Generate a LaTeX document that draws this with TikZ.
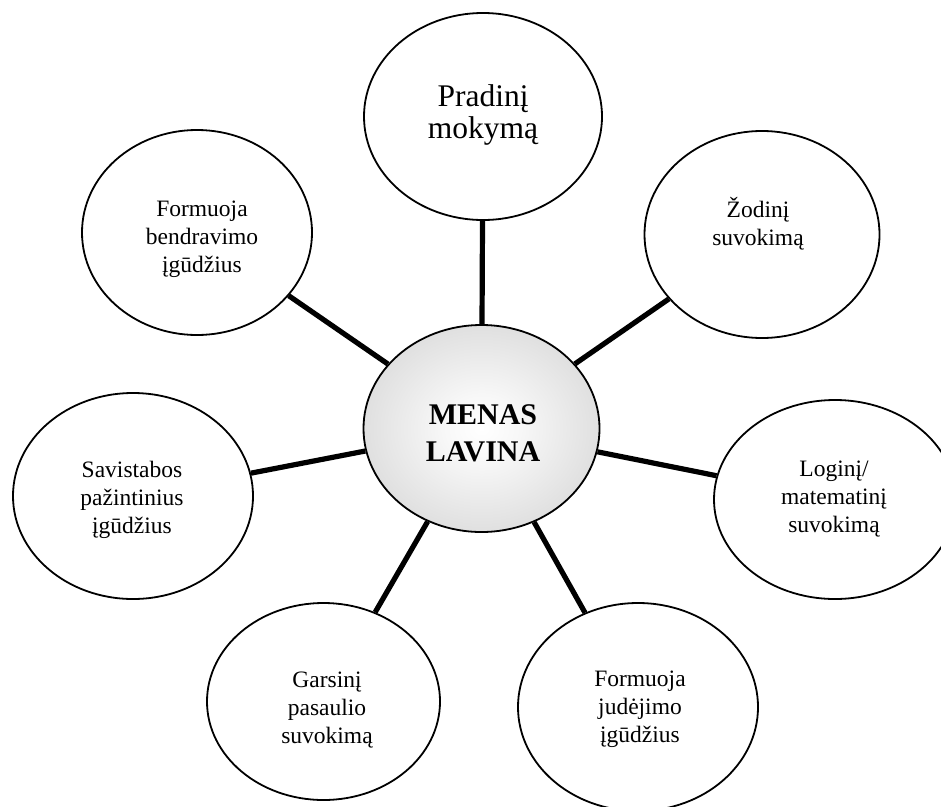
\documentclass[tikz,border=0pt]{standalone}
\usepackage{fontspec}
\setmainfont{Liberation Serif}
\usetikzlibrary{shapes.geometric}
\pgfdeclareradialshading{menasshade}{\pgfpoint{0bp}{0bp}}{color(0bp)=(white); color(8bp)=(white!97!black); color(50bp)=(black!26); color(100bp)=(black!26)}
\tikzset{
  bubble/.style={ellipse, draw=black, line width=1.8pt, fill=white, inner sep=0pt},
  lbl/.style={align=center, font=\fontsize{23.5}{28}\selectfont, inner sep=0pt},
  spoke/.style={line width=5.2pt, draw=black},
}
\begin{document}
\begin{tikzpicture}[x=1pt,y=-1pt]
\useasboundingbox (0,0) rectangle (941,806);
\clip (0,0) rectangle (941,806);
% outer ellipses
\node[bubble, minimum width=238pt, minimum height=207pt] (top) at (483,116.5) {};
\node[bubble, minimum width=235pt, minimum height=207pt] (zod) at (762,234.5) {};
\node[bubble, minimum width=242pt, minimum height=199pt] (log) at (835,499.5) {};
\node[bubble, minimum width=240pt, minimum height=208pt] (jud) at (638,707) {};
\node[bubble, minimum width=233pt, minimum height=197pt] (gar) at (323.5,701.5) {};
\node[bubble, minimum width=240pt, minimum height=206pt] (sav) at (133,496) {};
\node[bubble, minimum width=230pt, minimum height=205pt] (ben) at (197,232.5) {};
% central ellipse
\node[ellipse, draw=black, line width=1.8pt, shading=menasshade, inner sep=0pt,
      minimum width=236pt, minimum height=207pt] (mid) at (481.5,428.5) {};
% spokes
\draw[spoke] (mid) -- (top);
\draw[spoke] (mid) -- (zod);
\draw[spoke] (mid) -- (log);
\draw[spoke] (mid) -- (jud);
\draw[spoke] (mid) -- (gar);
\draw[spoke] (mid) -- (sav);
\draw[spoke] (mid) -- (ben);
% labels
\node[align=center, inner sep=0pt, font=\fontsize{31.5}{32}\selectfont] (ttop) at (483,115) {Pradinį\\mokymą};
\node[lbl] (tzod) at (758,224) {Žodinį\\suvokimą};
\node[lbl] (tlog) at (834,499) {Loginį/\\matematinį\\suvokimą};
\node[lbl] (tjud) at (640,709) {Formuoja\\judėjimo\\įgūdžius};
\node[lbl] (tgar) at (327,710) {Garsinį\\pasaulio\\suvokimą};
\node[lbl] (tsav) at (132,499.5) {Savistabos\\pažintinius\\įgūdžius};
\node[lbl] (tben) at (202,239.5) {Formuoja\\bendravimo\\įgūdžius};
\node[align=center, inner sep=0pt, font=\fontsize{30}{37}\selectfont\bfseries] (tmid) at (483,433) {MENAS\\LAVINA};
\end{tikzpicture}
\end{document}
